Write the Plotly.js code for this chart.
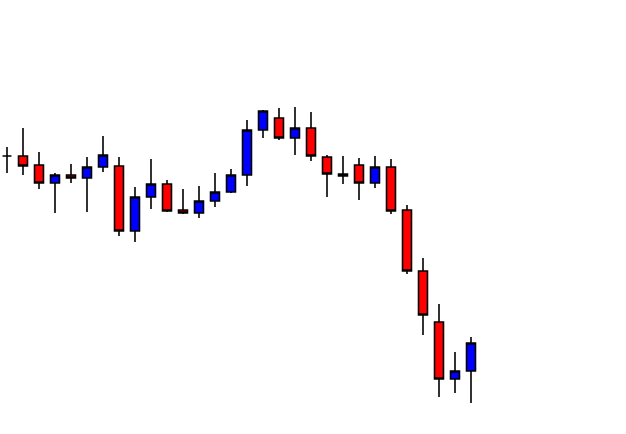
<!DOCTYPE html>
<html>
<head>
<meta charset="utf-8">
<script src="https://cdn.plot.ly/plotly-3.0.1.min.js"></script>
<style>html,body{margin:0;padding:0;background:#fff;}#chart{width:626px;height:434px;}</style>
</head>
<body>
<div id="chart"></div>
<script>
var bars = [0,1,2,3,4,5,6,7,8,9,10,11,12,13,14,15,16,17,18,19,20,21,22,23,24,25,26,27,28,29];
var openP  = [1.3178,1.3178,1.3169,1.3151,1.3159,1.3156,1.3167,1.3168,1.3103,1.3137,1.3150,1.3124,1.3121,1.3133,1.3142,1.3159,1.3204,1.3216,1.3196,1.3206,1.3177,1.3160,1.3169,1.3151,1.3167,1.3124,1.3063,1.3012,1.2955,1.2963];
var highP  = [1.3187,1.3206,1.3182,1.3161,1.3170,1.3177,1.3198,1.3177,1.3147,1.3175,1.3154,1.3145,1.3148,1.3161,1.3165,1.3214,1.3224,1.3226,1.3227,1.3222,1.3179,1.3178,1.3176,1.3178,1.3175,1.3129,1.3076,1.3030,1.2982,1.2997];
var lowP   = [1.3161,1.3159,1.3145,1.3121,1.3151,1.3122,1.3162,1.3098,1.3092,1.3125,1.3122,1.3120,1.3116,1.3127,1.3141,1.3148,1.3196,1.3194,1.3179,1.3173,1.3137,1.3150,1.3134,1.3146,1.3120,1.3060,1.2999,1.2937,1.2941,1.2931];
var closeP = [1.3178,1.3168,1.3151,1.3159,1.3156,1.3167,1.3179,1.3103,1.3137,1.3150,1.3123,1.3121,1.3133,1.3142,1.3159,1.3204,1.3223,1.3196,1.3206,1.3178,1.3160,1.3158,1.3151,1.3167,1.3123,1.3063,1.3019,1.2955,1.2963,1.2991];

var trace = {
  type: 'candlestick',
  x: bars, open: openP, high: highP, low: lowP, close: closeP,
  increasing: {fillcolor: '#0000ff', line: {color: '#000000', width: 1.6}},
  decreasing: {fillcolor: '#ff0000', line: {color: '#000000', width: 1.6}},
  whiskerwidth: 0,
  hoverinfo: 'none'
};

var layout = {
  width: 626, height: 434,
  margin: {l: 0, r: 0, t: 0, b: 0},
  paper_bgcolor: '#ffffff', plot_bgcolor: '#ffffff',
  showlegend: false,
  boxgap: 0.2,
  xaxis: {visible: false, range: [-0.4375, 38.6875], rangeslider: {visible: false}, fixedrange: true},
  yaxis: {visible: false, range: [1.2900, 1.3334], fixedrange: true}
};

Plotly.newPlot('chart', [trace], layout, {displayModeBar: false, staticPlot: true});
</script>
</body>
</html>
